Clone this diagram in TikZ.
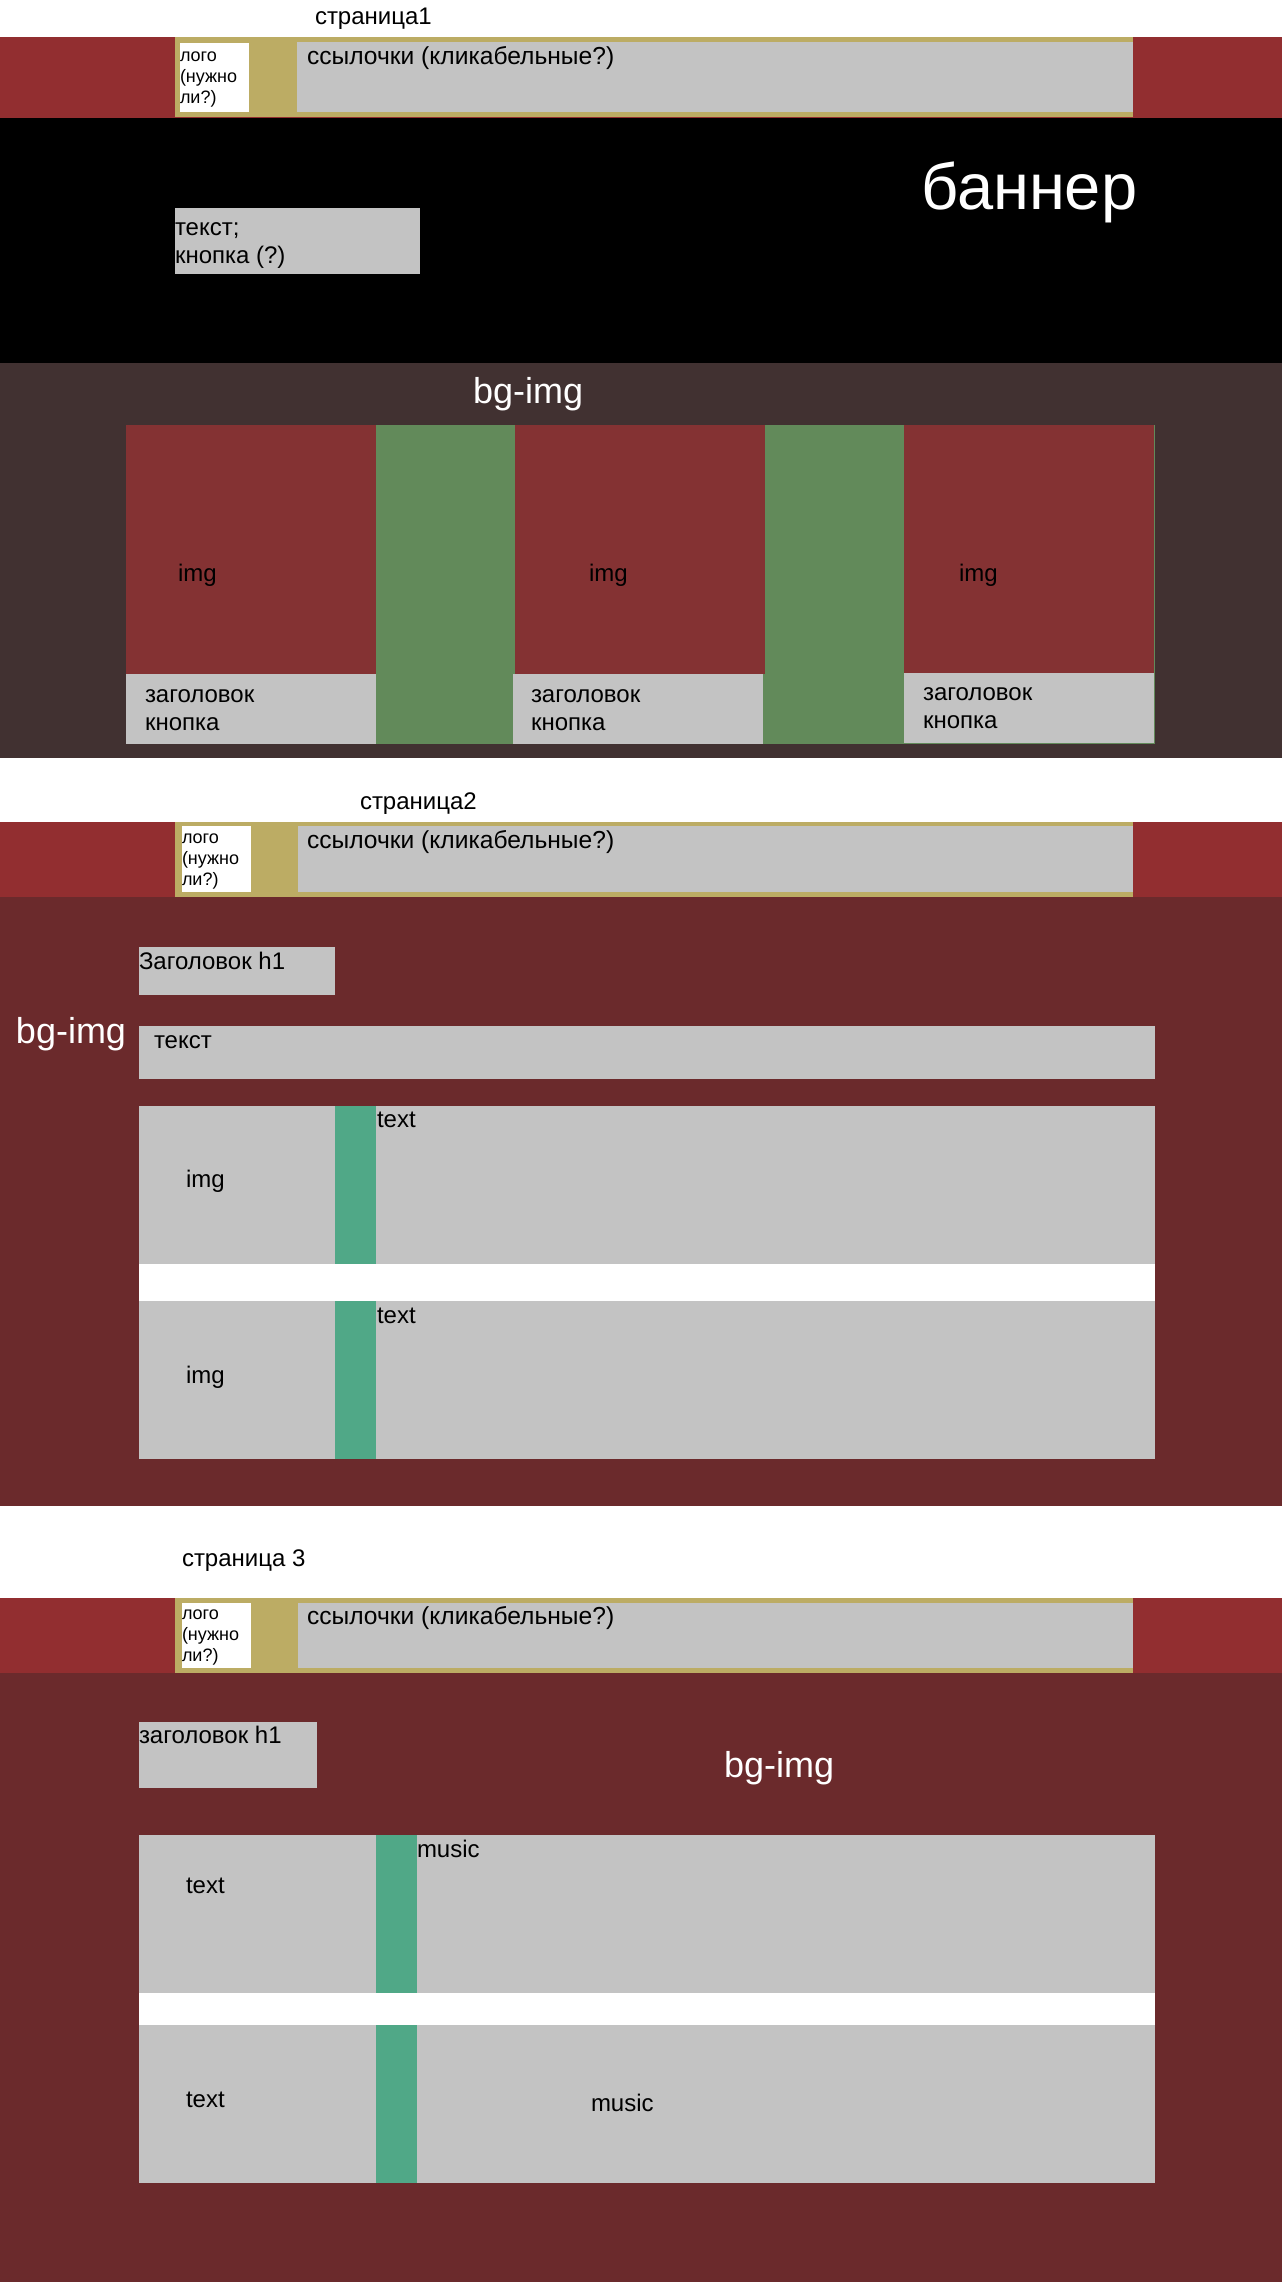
\documentclass[tikz,border=0pt]{standalone}
\usepackage{fontspec}
\setmainfont{Liberation Sans}
\definecolor{hdrred}{RGB}{146,46,48}
\definecolor{gold}{RGB}{188,172,100}
\definecolor{lgray}{RGB}{195,195,195}
\definecolor{pbg}{RGB}{65,49,49}
\definecolor{imgred}{RGB}{132,50,51}
\definecolor{colgreen}{RGB}{98,138,90}
\definecolor{bodyred}{RGB}{107,42,44}
\definecolor{teal}{RGB}{80,168,135}
\begin{document}
\begin{tikzpicture}[x=1pt,y=-1pt,
  area/.style={anchor=north west, inner sep=0pt, outer sep=0pt, draw=none},
  wh/.style 2 args={minimum width=#1pt, minimum height=#2pt},
  lbl/.style={anchor=base west, inner sep=0pt, outer sep=0pt, font=\fontsize{24}{28}\selectfont},
  lnktxt/.style={anchor=base west, inner sep=0pt, outer sep=0pt, font=\fontsize{24.6}{28}\selectfont},
  logotxt/.style={anchor=base west, inner sep=0pt, outer sep=0pt, align=left, font=\fontsize{18}{21}\selectfont},
  big/.style={anchor=base west, inner sep=0pt, outer sep=0pt, text=white, font=\fontsize{36}{40}\selectfont}]
\useasboundingbox[fill=white] (0,0) rectangle (1282,2284);

% ===== page 1 =====
\node[lbl] (t1) at (315,24) {страница1};
\node[area, fill=hdrred, wh={1282}{81}] (h1) at (0,37) {};
\node[area, fill=gold, wh={958}{80}] (g1) at (175,37) {};
\node[area, fill=white, wh={69}{69}] (logo1) at (180,43) {};
\node[logotxt] (logot1) at (180,103) {лого\\(нужно\\ли?)};
\node[area, fill=lgray, wh={836}{70}] (lnk1) at (297,42) {};
\node[lnktxt] (lnkt1) at (307,64) {ссылочки (кликабельные?)};

\node[area, fill=black, wh={1282}{245}] (ban) at (0,118) {};
\node[anchor=base west, inner sep=0pt, text=white, font=\fontsize{65}{70}\selectfont] (bant) at (921,209) {баннер};
\node[area, fill=lgray, wh={245}{66}] (bbox) at (175,208) {};
\node[lbl, align=left] (bboxt) at (175,263) {текст;\\кнопка (?)};

\node[area, fill=pbg, wh={1282}{395}] (sec1) at (0,363) {};
\node[big] (bg1) at (473,403) {bg-img};
\node[area, fill=colgreen, wh={1029}{319}] (grn) at (126,425) {};
\node[area, fill=imgred, wh={250}{249}] (c1) at (126,425) {};
\node[area, fill=lgray, wh={250}{70}] (c1b) at (126,674) {};
\node[area, fill=imgred, wh={250}{249}] (c2) at (515,425) {};
\node[area, fill=lgray, wh={250}{70}] (c2b) at (513,674) {};
\node[area, fill=imgred, wh={250}{248}] (c3) at (904,425) {};
\node[area, fill=lgray, wh={250}{70}] (c3b) at (904,673) {};
\node[lbl] (c1i) at (178,581) {img};
\node[lbl] (c2i) at (589,581) {img};
\node[lbl] (c3i) at (959,581) {img};
\node[lbl, align=left] (c1t) at (145,730) {заголовок\\кнопка};
\node[lbl, align=left] (c2t) at (531,730) {заголовок\\кнопка};
\node[lbl, align=left] (c3t) at (923,728) {заголовок\\кнопка};

% ===== page 2 =====
\node[lbl] (t2) at (360,809) {страница2};
\node[area, fill=hdrred, wh={1282}{75}] (h2) at (0,822) {};
\node[area, fill=gold, wh={958}{75}] (g2) at (175,822) {};
\node[area, fill=white, wh={69}{66}] (logo2) at (182,826) {};
\node[logotxt] (logot2) at (182,885) {лого\\(нужно\\ли?)};
\node[area, fill=lgray, wh={835}{66}] (lnk2) at (298,826) {};
\node[lnktxt] (lnkt2) at (307,848) {ссылочки (кликабельные?)};

\node[area, fill=bodyred, wh={1282}{609}] (body2) at (0,897) {};
\node[big] (bg2) at (16,1043) {bg-img};
\node[area, fill=lgray, wh={196}{48}] (h1b2) at (139,947) {};
\node[lbl] (h1t2) at (139,969) {Заголовок h1};
\node[area, fill=lgray, wh={1016}{53}] (txb2) at (139,1026) {};
\node[lbl] (txt2) at (154,1048) {текст};
\node[area, fill=white, wh={1016}{37}] (gap2) at (139,1264) {};
\node[area, fill=lgray, wh={1016}{158}] (r21) at (139,1106) {};
\node[area, fill=lgray, wh={1016}{158}] (r22) at (139,1301) {};
\node[area, fill=teal, wh={41}{158}] (s21) at (335,1106) {};
\node[area, fill=teal, wh={41}{158}] (s22) at (335,1301) {};
\node[lbl] (i21) at (186,1187) {img};
\node[lbl] (i22) at (186,1383) {img};
\node[lbl] (x21) at (377,1127) {text};
\node[lbl] (x22) at (377,1323) {text};

% ===== page 3 =====
\node[lbl] (t3) at (182,1566) {страница 3};
\node[area, fill=hdrred, wh={1282}{75}] (h3) at (0,1598) {};
\node[area, fill=gold, wh={958}{75}] (g3) at (175,1598) {};
\node[area, fill=white, wh={69}{65}] (logo3) at (182,1603) {};
\node[logotxt] (logot3) at (182,1661) {лого\\(нужно\\ли?)};
\node[area, fill=lgray, wh={835}{65}] (lnk3) at (298,1603) {};
\node[lnktxt] (lnkt3) at (307,1624) {ссылочки (кликабельные?)};

\node[area, fill=bodyred, wh={1282}{609}] (body3) at (0,1673) {};
\node[big] (bg3) at (724,1777) {bg-img};
\node[area, fill=lgray, wh={178}{66}] (h1b3) at (139,1722) {};
\node[lbl] (h1t3) at (139,1743) {заголовок h1};
\node[area, fill=white, wh={1016}{32}] (gap3) at (139,1993) {};
\node[area, fill=lgray, wh={1016}{158}] (r31) at (139,1835) {};
\node[area, fill=lgray, wh={1016}{158}] (r32) at (139,2025) {};
\node[area, fill=teal, wh={41}{158}] (s31) at (376,1835) {};
\node[area, fill=teal, wh={41}{158}] (s32) at (376,2025) {};
\node[lbl] (x31) at (186,1893) {text};
\node[lbl] (x32) at (186,2107) {text};
\node[lbl] (m31) at (417,1857) {music};
\node[lbl] (m32) at (591,2111) {music};
\end{tikzpicture}
\end{document}
